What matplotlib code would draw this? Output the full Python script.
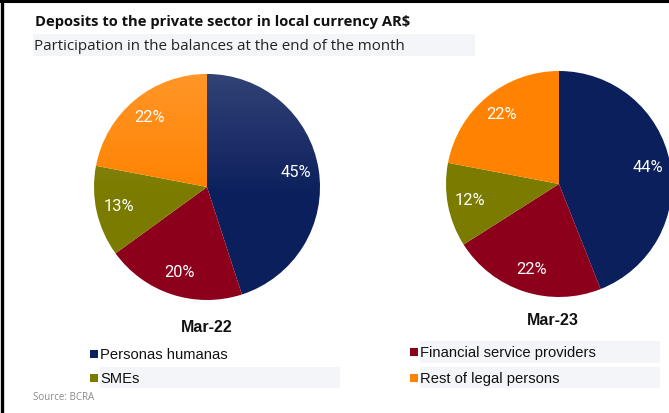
import matplotlib
matplotlib.use("Agg")
import numpy as np
import matplotlib.pyplot as plt
from matplotlib.patches import Rectangle, Circle
from matplotlib.lines import Line2D

W, H = 669, 413
DPI = 100

categories = ["Personas humanas", "Financial service providers", "SMEs", "Rest of legal persons"]
colors = ["#0b1f5c", "#8c001c", "#7b7b00", "#ff8200"]
mar22 = [45, 20, 13, 22]
mar23 = [44, 22, 12, 22]
periods = ["Mar-22", "Mar-23"]

fig = plt.figure(figsize=(W / DPI, H / DPI), dpi=DPI)
fig.patch.set_facecolor("white")


def px_axes(x, y, w, h):
    """Axes placed by pixel box (x, y = top-left corner)."""
    return fig.add_axes([x / W, 1 - (y + h) / H, w / W, h / H])


def px_text(x, y, s, **kw):
    fig.text(x / W, 1 - y / H, s, **kw)


def px_rect(x, y, w, h, color):
    fig.patches.append(Rectangle((x / W, 1 - (y + h) / H), w / W, h / H,
                                 transform=fig.transFigure, facecolor=color,
                                 edgecolor="none", zorder=0))


# light panels behind the subtitle and legend rows
px_rect(33, 34, 442, 22, "#f3f5f8")
px_rect(100, 367, 240, 21, "#f3f5f8")
px_rect(420, 341, 240, 22, "#f3f5f8")
px_rect(420, 367, 240, 21, "#f3f5f8")

# frame lines on top and left
fig.lines.append(Line2D([0, 1], [1 - 1 / H, 1 - 1 / H], transform=fig.transFigure,
                        color="black", lw=2.2))
fig.lines.append(Line2D([1.5 / W, 1.5 / W], [0, 1], transform=fig.transFigure,
                        color="black", lw=2.4))

px_text(35, 26, "Deposits to the private sector in local currency AR$",
        fontsize=10.6, fontweight="bold", family="Open Sans", color="#111111")
px_text(34, 50, "Participation in the balances at the end of the month",
        fontsize=10.9, family="Open Sans", color="#222222")


def draw_pie(cx, cy, r, values, label_dist, sheen=False):
    ax = px_axes(cx - r, cy - r, 2 * r, 2 * r)
    ax.pie(values, colors=colors, startangle=90, counterclock=False,
           autopct="%d%%", pctdistance=label_dist,
           textprops=dict(color="white", fontsize=11.8, family="Roboto"),
           wedgeprops=dict(linewidth=0))
    if sheen:
        # soft light fading from the top of the disc
        yy = np.linspace(1, -1, 200)[:, None]
        alpha = np.clip((yy + 0.1) / 1.1, 0, 1) * 0.16
        img = np.ones((200, 2, 4))
        img[..., 3] = alpha
        im = ax.imshow(img, extent=(-1, 1, -1, 1), zorder=1.5, interpolation="bilinear")
        im.set_clip_path(Circle((0, 0), 1, transform=ax.transData))
    ax.set_xlim(-1, 1)
    ax.set_ylim(-1, 1)
    ax.set_aspect("equal")
    ax.axis("off")
    for t in ax.texts:
        t.set_zorder(3)
    return ax


draw_pie(207, 187, 113, mar22, 0.8, sheen=True)
draw_pie(559, 184, 113, mar23, 0.8)

px_text(207, 332, periods[0], fontsize=11.5, fontweight="bold",
        family="Liberation Sans", ha="center", color="#111111")
px_text(553, 325, periods[1], fontsize=11.5, fontweight="bold",
        family="Liberation Sans", ha="center", color="#111111")

# legend, two columns
legend_pos = [(90, 359), (410, 357), (90, 383), (410, 383)]
for (lx, ly), name, col in zip(legend_pos, categories, colors):
    px_rect(lx, ly - 9, 8, 8, col)
    px_text(lx + 10, ly, name, fontsize=10.6, family="Liberation Sans", color="#111111")

px_text(33, 400, "Source: BCRA", fontsize=7, family="Open Sans", color="#8a8a8a")

fig.savefig("out.png", dpi=DPI)
